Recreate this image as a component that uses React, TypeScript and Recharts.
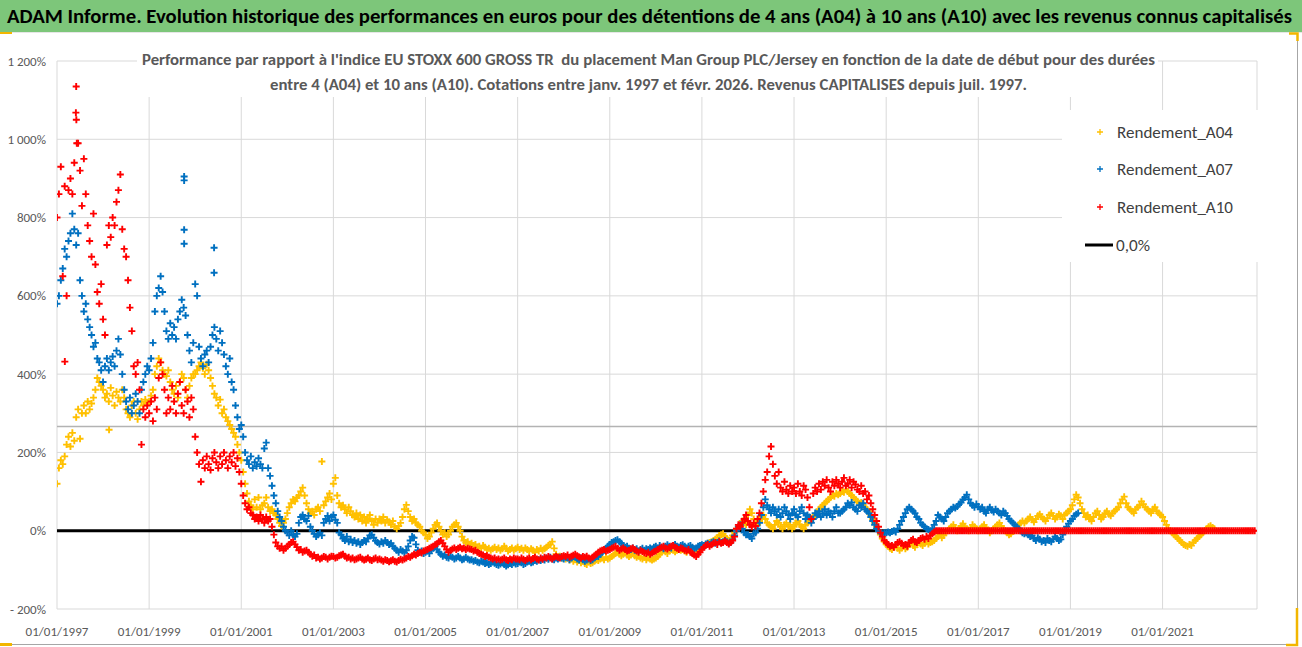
/**
 * ADAM – Man Group PLC/Jersey vs EU STOXX 600 GROSS TR, rolling 4/7/10 year returns.
 */
import { CartesianGrid, ReferenceLine, Scatter, ScatterChart, XAxis, YAxis } from 'recharts';

// one value every half month, starting 01/01/1997
const START = 1997;
const STEP = 1 / 24;

const a04 = [
  /* 1997 */ 120, 160, 180, 170, 190, 220, 240, 215, 250, 230, 290, 310, 235, 300, 320, 300, 330, 310, 325, 340, 360, 390, 380, 370,
  /* 1998 */ 360, 340, 350, 330, 365, 345, 320, 355, 340, 330, 360, 340, 310, 300, 290, 320, 330, 300, 285, 310, 330, 320, 335, 325,
  /* 1999 */ 330, 345, 360, 400, 420, 440, 430, 410, 400, 395, 410, 380, 360, 350, 370, 340, 380, 400, 390, 360, 340, 370, 390, 400,
  /* 2000 */ 400, 410, 420, 430, 415, 400, 425, 410, 390, 370, 350, 340, 320, 335, 300, 310, 290, 280, 270, 260, 250, 240, 220, 200,
  /* 2001 */ 180, 150, 120, 95, 75, 65, 55, 80, 60, 85, 55, 65, 70, 85, 60, 50, 55, 45, 40, 30, 20, 12, 20, 30,
  /* 2002 */ 45, 60, 70, 80, 75, 85, 90, 100, 110, 90, 70, 55, 45, 50, 40, 55, 60, 50, 177, 65, 75, 85, 95, 80,
  /* 2003 */ 120, 135, 90, 70, 60, 65, 55, 45, 60, 50, 40, 35, 45, 30, 40, 25, 35, 20, 30, 40, 25, 15, 30, 20,
  /* 2004 */ 30, 25, 35, 20, 28, 22, 15, 25, 10, 5, 12, 20, 35, 55, 66, 50, 35, 25, 30, 20, 15, 10, 0, -5,
  /* 2005 */ -10, -20, -15, -5, 5, 15, 20, 10, 0, -10, -5, -15, -10, 0, 10, 15, 20, 10, 0, -15, -25, -30, -28, -35,
  /* 2006 */ -32, -38, -35, -42, -40, -45, -38, -42, -48, -45, -50, -46, -42, -48, -44, -50, -46, -40, -45, -52, -48, -44, -50, -46,
  /* 2007 */ -42, -48, -45, -50, -44, -48, -52, -46, -50, -55, -48, -52, -45, -50, -46, -42, -38, -35, -28, -45, -60, -68, -65, -70,
  /* 2008 */ -68, -72, -70, -75, -72, -78, -74, -80, -76, -82, -78, -84, -86, -80, -84, -82, -78, -74, -76, -72, -70, -74, -68, -72,
  /* 2009 */ -70, -66, -62, -58, -55, -60, -64, -60, -56, -62, -66, -62, -58, -64, -68, -65, -70, -72, -68, -74, -70, -72, -75, -72,
  /* 2010 */ -70, -66, -60, -55, -50, -54, -58, -52, -48, -50, -54, -50, -46, -50, -48, -52, -55, -50, -48, -45, -50, -52, -48, -44,
  /* 2011 */ -42, -38, -35, -32, -30, -28, -25, -22, -18, -12, -10, -8, -15, -20, -25, -20, -12, -5, 5, 10, 15, 25, 20, 15,
  /* 2012 */ 40, 55, 45, 30, 20, 15, 25, 35, 40, 30, 20, 15, 10, 5, 15, 25, 20, 10, 5, 15, 20, 10, 15, 5,
  /* 2013 */ 10, 20, 25, 15, 10, 5, 15, 20, 25, 30, 35, 40, 45, 55, 60, 65, 70, 75, 80, 85, 90, 88, 95, 92,
  /* 2014 */ 95, 100, 98, 105, 100, 95, 90, 85, 80, 75, 70, 72, 65, 60, 55, 50, 40, 30, 20, 10, 0, -10, -20, -28,
  /* 2015 */ -35, -40, -45, -48, -42, -38, -45, -50, -44, -40, -46, -42, -35, -30, -38, -42, -36, -30, -34, -38, -32, -28, -34, -30,
  /* 2016 */ -28, -25, -20, -15, -10, -18, -12, -5, 0, 5, 10, 15, 8, 0, 5, 12, 18, 10, 5, 0, 8, 15, 10, 5,
  /* 2017 */ 0, 5, 10, 15, 8, 2, -5, 0, 5, 10, 15, 20, 12, 5, 0, -5, -10, -8, -2, 5, 10, 15, 20, 25,
  /* 2018 */ 20, 25, 30, 35, 28, 22, 30, 38, 42, 35, 30, 25, 32, 40, 45, 38, 30, 35, 42, 38, 30, 40, 45, 50,
  /* 2019 */ 55, 65, 80, 92, 85, 70, 55, 45, 35, 40, 30, 25, 35, 45, 50, 40, 30, 35, 45, 50, 42, 38, 45, 50,
  /* 2020 */ 55, 60, 70, 80, 87, 70, 60, 55, 50, 45, 55, 60, 65, 75, 68, 60, 55, 50, 45, 55, 60, 50, 45, 40,
  /* 2021 */ 35, 25, 15, 5, 0, -5, -10, -15, -20, -25, -30, -35, -38, -40, -35, -38, -30, -25, -20, -15, -10, -5, 0, 5,
  /* 2022 */ 10, 13, 8, 5,
];

const a07 = [
  /* 1997 */ 580, 600, 640, 670, 720, 700, 740, 760, 810, 770, 730, 760, 640, 600, 560, 580, 540, 520, 500, 470, 480, 440, 430, 410,
  /* 1998 */ 380, 420, 440, 410, 430, 445, 420, 460, 490, 450, 400, 360, 330, 310, 340, 300, 320, 350, 330, 300, 360, 380, 400, 420,
  /* 1999 */ 410, 440, 480, 560, 600, 620, 650, 610, 560, 510, 490, 530, 500, 520, 490, 540, 560, 590, 570, 550, 500, 460, 430, 480,
  /* 2000 */ 630, 600, 470, 440, 420, 450, 460, 430, 470, 500, 520, 490, 460, 510, 480, 450, 420, 400, 440, 380, 360, 320, 290, 260,
  /* 2001 */ 270, 240, 200, 180, 170, 190, 160, 175, 165, 185, 170, 160, 210, 225, 160, 140, 115, 90, 70, 50, 35, 25, 10, 0,
  /* 2002 */ -5, -12, 0, -10, -15, -8, 20, 35, 40, 30, 25, 38, 10, 0, -8, -15, -10, -5, -12, 20, 30, 38, 25, 35,
  /* 2003 */ 40, 28, 20, -5, -10, -20, -25, -15, -28, -22, -30, -25, -32, -28, -35, -30, -25, -28, -20, -12, -10, -18, -26, -30,
  /* 2004 */ -34, -28, -32, -25, -30, -35, -32, -40, -45, -50, -55, -48, -52, -56, -50, -40, -25, -15, -18, -35, -50, -55, -52, -58,
  /* 2005 */ -55, -52, -58, -50, -45, -40, -48, -55, -60, -65, -62, -68, -70, -65, -68, -72, -70, -66, -70, -74, -72, -68, -72, -75,
  /* 2006 */ -74, -78, -76, -80, -82, -78, -80, -84, -82, -86, -84, -80, -83, -86, -88, -85, -82, -86, -90, -87, -84, -86, -82, -85,
  /* 2007 */ -84, -80, -82, -86, -84, -80, -78, -82, -80, -76, -78, -74, -76, -72, -75, -70, -73, -68, -72, -74, -70, -72, -68, -70,
  /* 2008 */ -72, -68, -70, -74, -70, -66, -68, -72, -75, -70, -74, -78, -75, -72, -76, -74, -70, -66, -66, -60, -55, -50, -45, -40,
  /* 2009 */ -35, -30, -28, -25, -23, -28, -32, -38, -42, -40, -45, -48, -44, -50, -46, -52, -48, -45, -50, -46, -48, -44, -47, -42,
  /* 2010 */ -40, -44, -38, -42, -46, -40, -36, -40, -44, -38, -35, -40, -42, -38, -36, -40, -44, -40, -38, -42, -46, -44, -40, -38,
  /* 2011 */ -36, -38, -34, -32, -35, -30, -28, -32, -30, -26, -30, -28, -25, -28, -32, -30, -22, -12, 0, 10, 15, 5, -5, -10,
  /* 2012 */ -10, -15, -20, -8, -5, 5, 20, 40, 60, 80, 65, 55, 45, 60, 50, 40, 55, 35, 45, 60, 50, 40, 30, 45,
  /* 2013 */ 55, 40, 35, 50, 60, 45, 30, 40, 35, 20, 30, 45, 40, 50, 35, 45, 55, 40, 50, 45, 35, 50, 60, 45,
  /* 2014 */ 45, 50, 55, 60, 70, 65, 72, 60, 55, 50, 65, 60, 70, 55, 50, 45, 35, 25, 15, 5, 0, -5, -8, -5,
  /* 2015 */ -5, -3, -5, -2, 0, -3, 5, 15, 25, 35, 45, 55, 60, 55, 50, 45, 35, 30, 20, 15, 10, 5, 3, 0,
  /* 2016 */ 5, 15, 25, 40, 35, 30, 25, 35, 45, 50, 55, 60, 58, 62, 68, 72, 80, 85, 92, 80, 70, 65, 60, 68,
  /* 2017 */ 62, 55, 60, 50, 45, 55, 60, 52, 48, 55, 50, 45, 40, 50, 45, 38, 30, 25, 20, 15, 10, 5, 0, -5,
  /* 2018 */ -8, -5, -10, -15, -12, -20, -25, -18, -22, -28, -25, -30, -20, -25, -28, -22, -15, -20, -25, -22, -10, 0, 10, 18,
  /* 2019 */ 25, 30, 38, 42, 45,
];

const a10 = [
  /* 1997 */ 800, 860, 930, 650, 880, 600, 870, 900, 860, 940, 1135, 990, 920, 830, 950, 860, 780, 740, 700, 810, 680, 610, 580, 630,
  /* 1998 */ 540, 500, 730, 780, 750, 800, 780, 840, 870, 910, 770, 720, 700, 640, 570, 510, 420, 400, 430, 360, 220, 310, 290, 320,
  /* 1999 */ 300, 330, 280, 340, 310, 390, 430, 400, 360, 300, 340, 310, 370, 330, 300, 350, 380, 320, 300, 360, 330, 290, 340, 310,
  /* 2000 */ 240, 200, 170, 125, 180, 160, 190, 170, 155, 185, 200, 175, 160, 190, 170, 200, 180, 160, 190, 175, 200, 165, 185, 150,
  /* 2001 */ 120, 90, 70, 55, 60, 45, 40, 30, 35, 25, 40, 30, 20, 35, 25, 30, 10, -10, -30, -40, -45, -40, -50, -45,
  /* 2002 */ -40, -35, -30, -28, -35, -42, -50, -48, -55, -52, -50, -55, -60, -65, -62, -70, -68, -72, -70, -66, -68, -72, -68, -65,
  /* 2003 */ -66, -70, -68, -64, -62, -60, -65, -70, -68, -72, -70, -74, -72, -70, -68, -72, -75, -73, -70, -74, -76, -72, -70, -74,
  /* 2004 */ -72, -75, -78, -74, -76, -79, -77, -74, -78, -80, -76, -73, -75, -72, -70, -66, -68, -64, -60, -62, -58, -55, -57, -52,
  /* 2005 */ -50, -48, -45, -42, -40, -36, -33, -28, -25, -32, -40, -48, -55, -50, -47, -44, -48, -45, -42, -46, -44, -48, -45, -47,
  /* 2006 */ -48, -52, -50, -55, -58, -60, -62, -66, -64, -68, -70, -72, -70, -74, -72, -75, -73, -70, -74, -76, -72, -74, -70, -72,
  /* 2007 */ -72, -74, -70, -73, -76, -72, -70, -74, -71, -68, -72, -75, -70, -73, -68, -70, -66, -70, -72, -68, -65, -68, -70, -66,
  /* 2008 */ -64, -66, -62, -68, -65, -63, -60, -64, -67, -70, -66, -68, -65, -70, -72, -68, -64, -60, -55, -52, -50, -48, -52, -50,
  /* 2009 */ -48, -45, -42, -40, -45, -50, -47, -44, -48, -52, -50, -46, -44, -48, -52, -55, -50, -53, -56, -58, -55, -60, -57, -54,
  /* 2010 */ -52, -48, -45, -42, -40, -44, -47, -43, -40, -38, -42, -45, -48, -44, -46, -50, -52, -48, -55, -58, -62, -66, -60, -55,
  /* 2011 */ -48, -42, -38, -35, -40, -36, -32, -30, -35, -28, -32, -30, -26, -30, -34, -30, -25, -15, 5, 15, 10, 20, 30, 40,
  /* 2012 */ 25, 15, 10, 20, 12, 30, 45, 70, 100, 130, 150, 190, 215, 170, 140, 120, 150, 110, 100, 125, 105, 95, 115, 100,
  /* 2013 */ 110, 95, 120, 100, 90, 115, 105, 85, 60, 30, 95, 110, 100, 120, 105, 125, 115, 130, 110, 100, 125, 115, 130, 120,
  /* 2014 */ 110, 125, 135, 115, 120, 130, 110, 125, 118, 105, 100, 115, 95, 100, 80, 90, 70, 55, 40, 25, 10, -5, -15, -25,
  /* 2015 */ -30, -35, -40, -38, -42, -35, -30, -28, -32, -38, -35, -40, -30, -25, -22, -28, -30, -25, -20, -18, -22, -15, -20, -12,
  /* 2016 */ -8, -3, 0, 0, 0, 0, 0, 0, 0, 0, 0, 0, 0, 0, 0, 0, 0, 0, 0, 0, 0, 0, 0, 0,
  /* 2017 */ 0, 0, 0, 0, 0, 0, 0, 0, 0, 0, 0, 0, 0, 0, 0, 0, 0, 0, 0, 0, 0, 0, 0, 0,
  /* 2018 */ 0, 0, 0, 0, 0, 0, 0, 0, 0, 0, 0, 0, 0, 0, 0, 0, 0, 0, 0, 0, 0, 0, 0, 0,
  /* 2019 */ 0, 0, 0, 0, 0, 0, 0, 0, 0, 0, 0, 0, 0, 0, 0, 0, 0, 0, 0, 0, 0, 0, 0, 0,
  /* 2020 */ 0, 0, 0, 0, 0, 0, 0, 0, 0, 0, 0, 0, 0, 0, 0, 0, 0, 0, 0, 0, 0, 0, 0, 0,
  /* 2021 */ 0, 0, 0, 0, 0, 0, 0, 0, 0, 0, 0, 0, 0, 0, 0, 0, 0, 0, 0, 0, 0, 0, 0, 0,
  /* 2022 */ 0, 0, 0, 0, 0, 0, 0, 0, 0, 0, 0, 0, 0, 0, 0, 0, 0, 0, 0, 0, 0, 0, 0, 0,
  /* 2023 */ 0,
];

// isolated quotes away from the main cloud
const a04ExtraX = [1998.13];
const a04ExtraY = [258];
const a07ExtraX = [1999.76, 1999.76, 1999.76, 1999.76, 2000.41, 2000.41];
const a07ExtraY = [905, 895, 769, 733, 723, 659];
const a10ExtraX = [1997.17, 1997.41, 1997.42, 1997.43];
const a10ExtraY = [432, 1068, 1050, 990];

const zeroX = [1997, 2023];
const zeroY = [0, 0];
const markerLineY = 266;

const xTicks = [1997, 1999, 2001, 2003, 2005, 2007, 2009, 2011, 2013, 2015, 2017, 2019, 2021];
const yTicks = [-200, 0, 200, 400, 600, 800, 1000, 1200];

const YELLOW = '#FFC000';
const BLUE = '#0070C0';
const RED = '#FF0000';
const LABEL = '#595959';
const FONT = "Carlito, 'Liberation Sans Narrow', 'Liberation Sans', Arial, sans-serif";

const series = (values: number[]) => values.map((y, i) => ({ x: START + i * STEP, y }));
const pairs = (xs: number[], ys: number[]) => xs.map((x, i) => ({ x, y: ys[i] }));

function pct(v: number) {
  const a = Math.abs(v);
  const body = a >= 1000 ? `${Math.floor(a / 1000)} ${String(a % 1000).padStart(3, '0')}` : `${a}`;
  return `${v < 0 ? '- ' : ''}${body}%`;
}

function cross(color: string, r = 3.5) {
  return (p: any) =>
    p.cx == null ? <g /> : (
      <path
        d={`M${p.cx - r},${p.cy}H${p.cx + r}M${p.cx},${p.cy - r}V${p.cy + r}`}
        stroke={color}
        strokeWidth={1.9}
        fill="none"
      />
    );
}

const tickStyle = { fontSize: 13, fill: LABEL, fontFamily: FONT };

export default function App() {
  return (
    <div style={{ position: 'relative', width: 1302, height: 647, background: '#fff', overflow: 'hidden', fontFamily: FONT }}>
      <style>{'body{margin:0}'}</style>
      <ScatterChart width={1302} height={647} margin={{ top: 61, right: 45, bottom: 0, left: 0 }}>
        <CartesianGrid stroke="#d9d9d9" />
        <XAxis
          type="number"
          dataKey="x"
          domain={[1997, 2023.05]}
          ticks={xTicks}
          allowDataOverflow
          tickFormatter={v => `01/01/${Math.round(v)}`}
          axisLine={false}
          tickLine={false}
          tickMargin={12}
          height={38}
          tick={tickStyle}
        />
        <YAxis
          type="number"
          dataKey="y"
          domain={[-200, 1200]}
          ticks={yTicks}
          allowDataOverflow
          tickFormatter={pct}
          axisLine={false}
          tickLine={false}
          tickMargin={5}
          width={57}
          tick={tickStyle}
        />
        <ReferenceLine y={markerLineY} stroke="#b3b3b3" strokeWidth={1.5} />
        <Scatter data={pairs(zeroX, zeroY)} line={{ stroke: '#000', strokeWidth: 3 }} shape={() => <g />} isAnimationActive={false} />
        <Scatter data={series(a04)} shape={cross(YELLOW)} isAnimationActive={false} />
        <Scatter data={pairs(a04ExtraX, a04ExtraY)} shape={cross(YELLOW)} isAnimationActive={false} />
        <Scatter data={series(a07)} shape={cross(BLUE)} isAnimationActive={false} />
        <Scatter data={pairs(a07ExtraX, a07ExtraY)} shape={cross(BLUE)} isAnimationActive={false} />
        <Scatter data={series(a10)} shape={cross(RED)} isAnimationActive={false} />
        <Scatter data={pairs(a10ExtraX, a10ExtraY)} shape={cross(RED)} isAnimationActive={false} />
      </ScatterChart>

      <svg width={1302} height={647} style={{ position: 'absolute', left: 0, top: 0, pointerEvents: 'none' }}>
        {/* header band */}
        <rect x={0} y={0} width={1302} height={32} fill="#7dc67a" />
        <line x1={0} y1={32.5} x2={1302} y2={32.5} stroke="#e6e6e6" />
        <text x={7} y={23} fontSize={19.5} fontWeight="bold" fill="#000" textLength={1285} lengthAdjust="spacingAndGlyphs" fontFamily={FONT}>
          ADAM Informe. Evolution historique des performances en euros pour des détentions de 4 ans (A04) à 10 ans (A10) avec les revenus connus capitalisés
        </text>

        {/* chart title box */}
        <rect x={137} y={40} width={1021} height={57} fill="#fff" />
        <text x={142} y={65} fontSize={15.5} fontWeight="bold" fill={LABEL} textLength={1013} lengthAdjust="spacingAndGlyphs" fontFamily={FONT} style={{ whiteSpace: 'pre' }}>
          Performance par rapport à l'indice EU STOXX 600 GROSS TR  du placement Man Group PLC/Jersey en fonction de la date de début pour des durées
        </text>
        <text x={270} y={90} fontSize={15.5} fontWeight="bold" fill={LABEL} textLength={757} lengthAdjust="spacingAndGlyphs" fontFamily={FONT}>
          entre 4 (A04) et 10 ans (A10). Cotations entre janv. 1997 et févr. 2026. Revenus CAPITALISES depuis juil. 1997.
        </text>

        {/* legend */}
        <rect x={1062} y={110} width={196} height={152} fill="#fff" />
        {[
          { label: 'Rendement_A04', color: YELLOW, y: 132 },
          { label: 'Rendement_A07', color: BLUE, y: 169 },
          { label: 'Rendement_A10', color: RED, y: 207 },
        ].map(item => (
          <g key={item.label}>
            <path d={`M1097,${item.y}h6M1100,${item.y - 3}v6`} stroke={item.color} strokeWidth={1.3} />
            <text x={1117} y={item.y + 6} fontSize={17} fill="#404040" textLength={116} lengthAdjust="spacingAndGlyphs" fontFamily={FONT}>
              {item.label}
            </text>
          </g>
        ))}
        <line x1={1085} y1={245} x2={1113} y2={245} stroke="#000" strokeWidth={3} />
        <text x={1116} y={251} fontSize={17} fill="#404040" textLength={34} lengthAdjust="spacingAndGlyphs" fontFamily={FONT}>
          0,0%
        </text>

        {/* chart frame and selection handles */}
        <line x1={1297.5} y1={33} x2={1297.5} y2={645} stroke="#a6a6a6" />
        <line x1={0} y1={644.5} x2={1298} y2={644.5} stroke="#a6a6a6" />
        <rect x={0} y={32} width={12} height={2} fill="#f2b600" />
        <path d="M1289,33.5H1297.5V41" stroke="#f2b600" strokeWidth={2.5} fill="none" />
        <path d="M1297,608V645H1286" stroke="#f2b600" strokeWidth={2.5} fill="none" />
        <rect x={0} y={643} width={12} height={3} fill="#f2b600" />
      </svg>
    </div>
  );
}
